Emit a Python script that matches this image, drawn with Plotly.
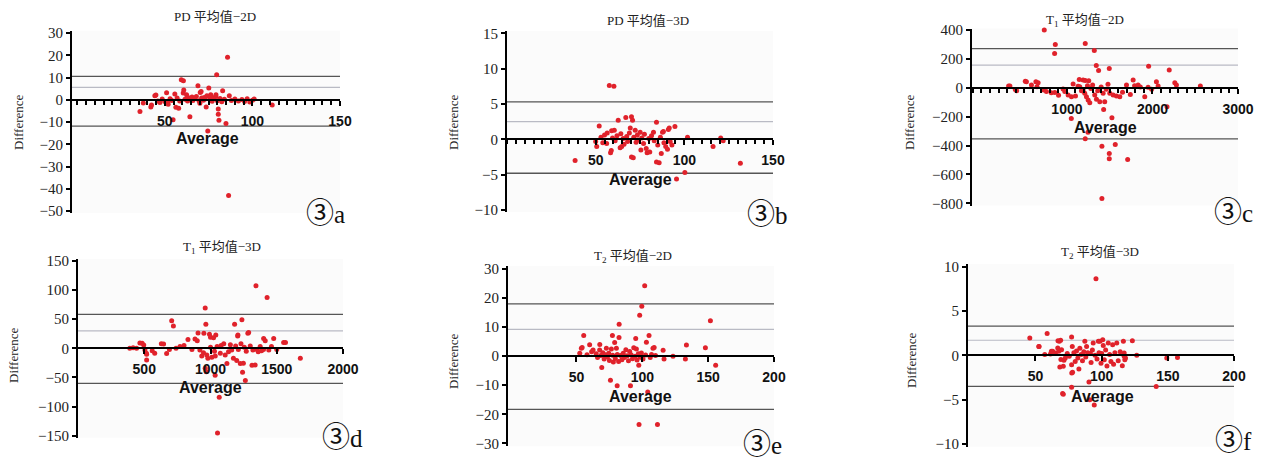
import plotly.graph_objects as go

# ---------------- DATA ----------------
# (a) PD 平均值-2D
a_avg = [35.8, 37.7, 42.0, 42.4, 44.3, 44.9, 46.0, 47.2, 48.5, 50.0, 51.0, 51.6, 51.9, 53.0, 54.0, 54.7, 55.7, 56.3,
         57.0, 57.9, 58.5, 59.4, 60.6, 60.5, 60.8, 61.5, 62.4, 63.0, 63.5, 64.3, 64.8, 65.5, 66.0, 67.0, 68.0, 68.9,
         69.5, 70.0, 70.2, 70.7, 71.0, 72.0, 72.5, 73.0, 73.6, 74.0, 74.5, 75.1, 75.8, 76.2, 77.0, 78.0, 79.1, 79.2,
         79.6, 80.0, 80.5, 80.5, 80.9, 81.5, 82.5, 83.0, 84.0, 84.9, 85.8, 86.4, 86.8, 88.0, 90.0, 92.0, 94.0, 95.5,
         97.0, 98.5, 100.0, 101.0, 111.3]
a_diff = [-5.3, -1.4, -3.2, -2.4, 1.8, 2.2, -0.5, -1.2, 0.3, -0.8, 3.2, -1.0, -2.0, 0.5, -0.3, -9.0, 2.6, -3.4,
          0.8, -3.8, -0.5, 9.0, 8.6, 3.0, 4.4, 0.2, 2.3, -0.6, 0.9, -7.6, 0.4, 1.2, -0.3, 0.6, 1.5, 6.3,
          -0.4, -1.6, 3.3, 3.7, 0.8, -0.2, 1.0, 0.3, -3.2, 1.8, -14.0, 5.3, 0.5, 2.3, -0.7, 0.9, 1.5, 2.3,
          11.3, -0.4, -4.2, -6.5, -9.2, 0.6, -0.9, 4.0, 0.2, -10.7, 19.1, -43.0, 1.8, -0.3, 0.4, -0.6, 0.1, -0.8,
          0.5, -1.0, -0.2, 0.3, -2.3]
a_lines = [10.5, 5.6, -11.8]   # upper LoA, mean, lower LoA

# (b) PD 平均值-3D
b_avg = [38.4, 50.0, 50.6, 52.0, 53.0, 54.0, 55.0, 56.2, 56.5, 57.7, 58.4, 58.8, 59.0, 59.5, 60.3, 60.5, 61.0, 62.0,
         62.7, 63.8, 64.2, 64.7, 65.5, 66.0, 67.0, 67.5, 68.0, 69.0, 69.5, 70.2, 70.2, 70.8, 71.2, 71.5, 72.3, 72.8,
         73.5, 74.0, 75.1, 75.5, 76.0, 77.0, 77.5, 78.5, 79.0, 80.0, 80.5, 81.5, 82.6, 83.0, 84.3, 84.3, 85.0, 85.8,
         86.5, 87.0, 87.7, 88.2, 88.5, 89.5, 90.5, 91.0, 91.5, 92.0, 93.0, 94.7, 95.6, 100.3, 101.8, 116.2, 120.5,
         121.9, 131.6]
b_diff = [-3.0, -0.3, -1.0, 1.9, 0.3, -0.5, 0.6, -0.6, 0.9, 7.6, -1.9, -1.6, 1.2, 0.2, 7.5, 1.3, -0.2, 0.5,
          2.7, -1.2, 0.8, -1.0, 0.1, -0.7, 3.1, 0.4, -0.3, 0.9, 1.6, 3.2, -2.5, 2.7, -2.6, 0.3, 1.3, -0.4,
          0.6, -0.1, 1.0, -1.5, 0.2, -0.6, 0.7, -1.3, -1.9, 0.1, -1.8, 0.5, 1.0, -0.2, 2.4, -3.2, -0.8, -3.3,
          0.3, -2.0, 1.0, 1.1, -0.5, -1.0, -1.4, 1.4, 1.6, -0.3, -0.8, 1.8, -5.6, -4.7, 0.3, -1.0, 0.2,
          -0.2, -3.4]
b_lines = [5.3, 2.5, -4.8]

# (c) T1 平均值-2D
c_avg = [318, 333, 396, 412, 513, 526, 585, 637, 650, 663, 727, 735, 760, 817, 856, 858, 864, 902, 955, 975,
         1014, 1051, 1053, 1072, 1100, 1130, 1144, 1150, 1170, 1189, 1189, 1208, 1214, 1214, 1214, 1228, 1240,
         1246, 1248, 1255, 1267, 1280, 1300, 1320, 1325, 1343, 1345, 1360, 1370, 1384, 1400, 1409, 1409, 1423,
         1429, 1442, 1460, 1480, 1495, 1495, 1495, 1501, 1526, 1540, 1565, 1579, 1618, 1650, 1696, 1710, 1741,
         1774, 1791, 1832, 1858, 1910, 1949, 1955, 1990, 2046, 2066, 2170, 2196, 2261, 2280, 2560]
c_diff = [12, 12, -12, -20, 46, 42, 19, 42, 8, 35, -16, 400, -25, -35, 238, -32, 300, -51, -9, -25,
          -50, -212, -62, 26, -57, 10, 58, 8, -20, 54, -15, -38, 307, 51, -353, -62, 15,
          -307, -84, 49, -103, -5, 20, 259, -50, 155, -80, -20, 120, -96, 5, -404, -767, -38,
          -150, -96, -10, 25, 134, -455, -492, -38, -208, -50, -393, -57, -62, -30, 19, -497, -46,
          54, 15, 19, 5, -62, 3, 150, -10, 42, 12, -132, 123, 35, 19, 12]
c_lines = [272, 157, -353]

# (d) T1 平均值-3D
d_avg = [391, 416, 442, 467, 484, 496, 505, 516, 518, 518, 560, 579, 629, 646, 669, 690, 707, 720, 740, 770,
         800, 830, 860, 883, 900, 906, 920, 934, 947, 950, 960, 960, 965, 968, 972, 980, 992, 1000, 1000, 1010,
         1023, 1030, 1035, 1036, 1040, 1050, 1053, 1066, 1074, 1080, 1100, 1111, 1124, 1136, 1150, 1160, 1173,
         1182, 1190, 1198, 1205, 1207, 1210, 1225, 1230, 1237, 1242, 1248, 1255, 1263, 1270, 1282, 1288, 1300,
         1313, 1320, 1337, 1343, 1350, 1360, 1375, 1385, 1400, 1401, 1413, 1427, 1440, 1460, 1477, 1500, 1552,
         1566, 1678]
d_diff = [0, 1, 0, 9, 8.6, 5.7, -3, -8.6, -10, -20, -4, -8.6, 8, 7.4, -9, -2, 47, 38, 0, 3,
          5, 15, -2, 16, 13, 26, -3, -13, -7.5, 25.7, 69, -34, 41, -40, -11.5, -17, 24, 18.9, 2, -15.4,
          18, -5, -46, -13.2, 22.8, 3, -145, -84, -8.6, 5, 8, -11.5, -26, -5.7, 6, -3, -17,
          41, 4, -21, 21, 22.8, -2, -26, 8, 49, -41, -25.7, 2, -55, -5, 25.7, 27, 4,
          -29, -3, -28.6, 107, -2, -6, 3, -4, -2, 17, 13, 87, -3, 3, 17, -2, 10,
          10, -17]
d_lines = [58, 30, -60]

# (e) T2 平均值-2D
e_avg = [52.5, 53.7, 54.3, 55.5, 58.0, 60.0, 61.5, 62.6, 65.0, 66.0, 67.6, 67.7, 68.5, 69.2, 70.0, 71.0, 72.0,
         72.7, 73.5, 74.5, 75.0, 75.8, 76.5, 77.3, 77.5, 78.0, 79.0, 79.5, 80.3, 80.9, 81.0, 82.0, 82.3, 82.4,
         83.5, 84.5, 85.5, 86.5, 87.5, 88.5, 89.5, 90.4, 91.0, 91.5, 92.5, 93.5, 94.5, 95.0, 95.5, 96.0, 97.0,
         97.3, 97.5, 98.0, 98.5, 99.3, 99.6, 100.5, 101.8, 102.5, 103.1, 104.1, 105.1, 106.0, 107.0, 108.1,
         109.0, 110.0, 111.5, 115.8, 116.5, 123.3, 132.7, 133.5, 147.9, 151.7, 155.7]
e_diff = [1.0, 2.7, 3.0, 7.1, 0.5, 3.9, 1.5, 2.1, 0.8, -0.5, 2.1, 4.0, 0.2, -3.9, 1.2, -1.0, 0.5,
          2.7, -0.3, 1.0, -1.5, -8.3, 2.5, 7.1, 0.3, -2.0, 4.7, -0.8, 2.7, -10.2, 0.6, -1.8, 6.4, 11.0,
          0.2, -1.2, 1.0, -0.5, 2.2, 0.1, -1.6, 1.6, -10.2, 0.5, -0.9, 2.9, 0.0, 6.1, 2.5, -1.3, 0.8,
          -3.1, -23.5, 14.1, -0.4, 1.1, 17.2, -1.0, 24.2, 0.4, 4.8, -12.3, 7.1, -0.5, 0.6, 2.7,
          3.0, 0.2, -23.5, 2.0, -1.0, 0.0, -1.0, 3.8, 2.9, 12.2, -3.1]
e_lines = [18.0, 9.2, -18.3]

# (f) T2 平均值-3D
f_avg = [45.7, 52.5, 52.7, 57.0, 58.8, 61.3, 62.0, 63.0, 65.1, 66.8, 67.0, 67.6, 68.0, 68.4, 69.0, 69.2, 69.7,
         70.5, 71.0, 71.0, 71.5, 72.5, 74.0, 75.5, 77.3, 77.3, 77.3, 77.4, 77.8, 78.0, 79.0, 80.0, 81.0, 82.0,
         82.8, 83.5, 84.5, 85.5, 86.5, 87.3, 88.0, 88.6, 89.5, 90.4, 91.0, 91.5, 92.0, 93.0, 93.6, 94.4, 95.0,
         95.7, 96.5, 97.5, 98.0, 98.7, 99.5, 100.0, 100.8, 101.2, 102.0, 103.0, 104.0, 105.0, 106.0, 107.0,
         108.3, 109.0, 110.0, 111.4, 112.5, 114.0, 115.6, 116.4, 117.0, 117.0, 117.5, 118.0, 123.2, 126.5,
         141.2, 149.2, 157.3]
f_diff = [1.96, 1.0, 1.0, 0.1, 2.45, 0.15, 0.45, 0.45, 0.27, 0.83, 1.65, 0.45, 1.58, -1.3, 1.7, -0.48, 0.64,
          -4.3, -4.4, -1.24, -0.56, -0.3, 0.2, -0.1, 2.07, -1.05, -3.6, -2.0, 1.0, -1.9, 0.3, -0.7, 0.5, -0.3,
          -1.54, 0.8, 0.1, -0.6, 0.4, 1.58, -0.2, 1.0, 0.3, -3.0, -5.0, 0.2, -0.8, 0.6, 1.4, -5.6, 0.0,
          8.65, -0.4, 1.6, 0.3, 1.58, -0.9, 0.2, 1.77, 1.1, -0.5, 0.6, -1.2, 1.4, 0.1, -0.7,
          1.2, -1.0, 0.3, 1.4, -0.6, 0.4, -1.17, 1.6, 0.26, -0.11, -0.5, -0.3, 1.65, 0.0,
          -3.5, -0.3, -0.23]
f_lines = [3.3, 1.7, -3.5]

titles = ["PD 平均值−2D", "PD 平均值−3D", "T<sub>1</sub> 平均值−2D",
          "T<sub>1</sub> 平均值−3D", "T<sub>2</sub> 平均值−2D", "T<sub>2</sub> 平均值−3D"]
letters = ["a", "b", "c", "d", "e", "f"]
y_tickvals = [[30, 20, 10, 0, -10, -20, -30, -40, -50],
              [15, 10, 5, 0, -5, -10],
              [400, 200, 0, -200, -400, -600, -800],
              [150, 100, 50, 0, -50, -100, -150],
              [30, 20, 10, 0, -10, -20, -30],
              [10, 5, 0, -5, -10]]
x_tickvals = [[50, 100, 150], [50, 100, 150], [1000, 2000, 3000],
              [500, 1000, 1500, 2000], [50, 100, 150, 200], [50, 100, 150, 200]]
x_label = "Average"
y_label = "Difference"

series = [(a_avg, a_diff, a_lines), (b_avg, b_diff, b_lines), (c_avg, c_diff, c_lines),
          (d_avg, d_diff, d_lines), (e_avg, e_diff, e_lines), (f_avg, f_diff, f_lines)]

# ---------------- LAYOUT (pixel geometry) ----------------
W, H = 1270, 459
panels = [
    dict(xpx=(72, 340), ypx=(30.8, 212.8), xr=(-3, 150), yr=(-50.8, 31), minor=5,
         tpos=(215, 17), apos=(207, 138), dpos=(18, 122), lpos=(325, 213)),
    dict(xpx=(507, 773), ypx=(31.2, 212.1), xr=(0, 150), yr=(-10.3, 15.3), minor=5,
         tpos=(648, 21), apos=(640, 179), dpos=(453, 122), lpos=(767, 214)),
    dict(xpx=(972, 1238), ypx=(28.6, 205.5), xr=(-110, 3000), yr=(-815, 410), minor=100,
         tpos=(1085, 21), apos=(1105, 128), dpos=(909, 122), lpos=(1233, 212)),
    dict(xpx=(78, 343), ypx=(259, 437.6), xr=(0, 2000), yr=(-153, 153), minor=None,
         tpos=(222, 247), apos=(210, 387), dpos=(13, 355), lpos=(342, 437)),
    dict(xpx=(508, 774), ypx=(266.1, 446.2), xr=(-2, 200), yr=(-31, 31), minor=None,
         tpos=(633, 256), apos=(640, 396), dpos=(453, 361), lpos=(762, 444)),
    dict(xpx=(968, 1234), ypx=(264, 446.7), xr=(-1, 200), yr=(-10.3, 10.3), minor=None,
         tpos=(1100, 253), apos=(1102, 396), dpos=(911, 360), lpos=(1233, 440)),
]

SERIF = "Liberation Serif, Times New Roman, Noto Sans CJK SC, serif"
SANS = "Liberation Sans, Arial, sans-serif"
RED = "#e0222b"


def fx(p):
    return p / W


def fy(p):
    return 1 - p / H


fig = go.Figure()
annotations = []
shapes = []
layout_axes = {}

for i, (p, (xs, ys, lines)) in enumerate(zip(panels, series)):
    n = "" if i == 0 else str(i + 1)
    xa, ya = "x" + n, "y" + n
    fig.add_trace(go.Scatter(
        x=xs, y=ys, mode="markers", xaxis=xa, yaxis=ya, showlegend=False,
        marker=dict(color=RED, size=5, line=dict(width=0)), cliponaxis=False))

    top, bot = p["ypx"]
    y0r, y1r = p["yr"]
    zero_px = top + (y1r - 0) / (y1r - y0r) * (bot - top)

    xaxis = dict(
        domain=[fx(p["xpx"][0]), fx(p["xpx"][1])], range=list(p["xr"]),
        anchor="free", position=fy(zero_px), automargin=False,
        showline=True, linecolor="black", linewidth=2, showgrid=False, zeroline=False,
        tickmode="array", tickvals=x_tickvals[i], ticks="outside", ticklen=5,
        tickwidth=1.8, tickcolor="black", ticklabelstandoff=3,
        tickfont=dict(family=SANS, size=14, color="#111", weight="bold"),
    )
    if p["minor"]:
        xaxis["minor"] = dict(tickmode="linear", tick0=0, dtick=p["minor"], ticks="outside",
                              ticklen=4, tickwidth=1.5, tickcolor="black", showgrid=False)
    yaxis = dict(
        domain=[fy(bot), fy(top)], range=[y0r, y1r], anchor=xa, automargin=False,
        showline=True, linecolor="black", linewidth=2, showgrid=False, zeroline=False,
        tickmode="array", tickvals=y_tickvals[i], ticks="outside", ticklen=4,
        tickwidth=2, tickcolor="black",
        tickfont=dict(family=SERIF, size=15, color="#222"),
    )
    layout_axes["xaxis" + n] = xaxis
    layout_axes["yaxis" + n] = yaxis

    # limits of agreement and mean line
    styles = [dict(color="#555555", width=1.3), dict(color="#b9bac4", width=1.2),
              dict(color="#555555", width=1.3)]
    for val, st in zip(lines, styles):
        shapes.append(dict(type="line", xref=xa + " domain", yref=ya, x0=0, x1=1,
                           y0=val, y1=val, line=st, layer="below"))

    annotations.append(dict(text=titles[i], x=fx(p["tpos"][0]), y=fy(p["tpos"][1]),
                            xref="paper", yref="paper", showarrow=False,
                            xanchor="center", yanchor="middle",
                            font=dict(family=SERIF, size=13, color="#222")))
    annotations.append(dict(text=x_label, x=fx(p["apos"][0]), y=fy(p["apos"][1]),
                            xref="paper", yref="paper", showarrow=False,
                            xanchor="center", yanchor="middle",
                            font=dict(family=SANS, size=16, color="#111", weight="bold")))
    annotations.append(dict(text=y_label, x=fx(p["dpos"][0]), y=fy(p["dpos"][1]),
                            xref="paper", yref="paper", showarrow=False, textangle=-90,
                            xanchor="center", yanchor="middle",
                            font=dict(family=SERIF, size=13, color="#222")))
    annotations.append(dict(text="<span style='font-size:28px'>③</span>" + letters[i],
                            x=fx(p["lpos"][0]), y=fy(p["lpos"][1]),
                            xref="paper", yref="paper", showarrow=False,
                            xanchor="center", yanchor="middle",
                            font=dict(family=SERIF, size=25, color="#111")))

fig.update_layout(
    width=W, height=H, margin=dict(l=0, r=0, t=0, b=0, pad=0, autoexpand=False),
    paper_bgcolor="white", plot_bgcolor="#fbfbfb",
    annotations=annotations, shapes=shapes, showlegend=False,
    **layout_axes,
)

fig.write_html("out.html", config={"displayModeBar": False},
               post_script="document.body.style.margin='0';document.body.style.overflow='hidden';")
